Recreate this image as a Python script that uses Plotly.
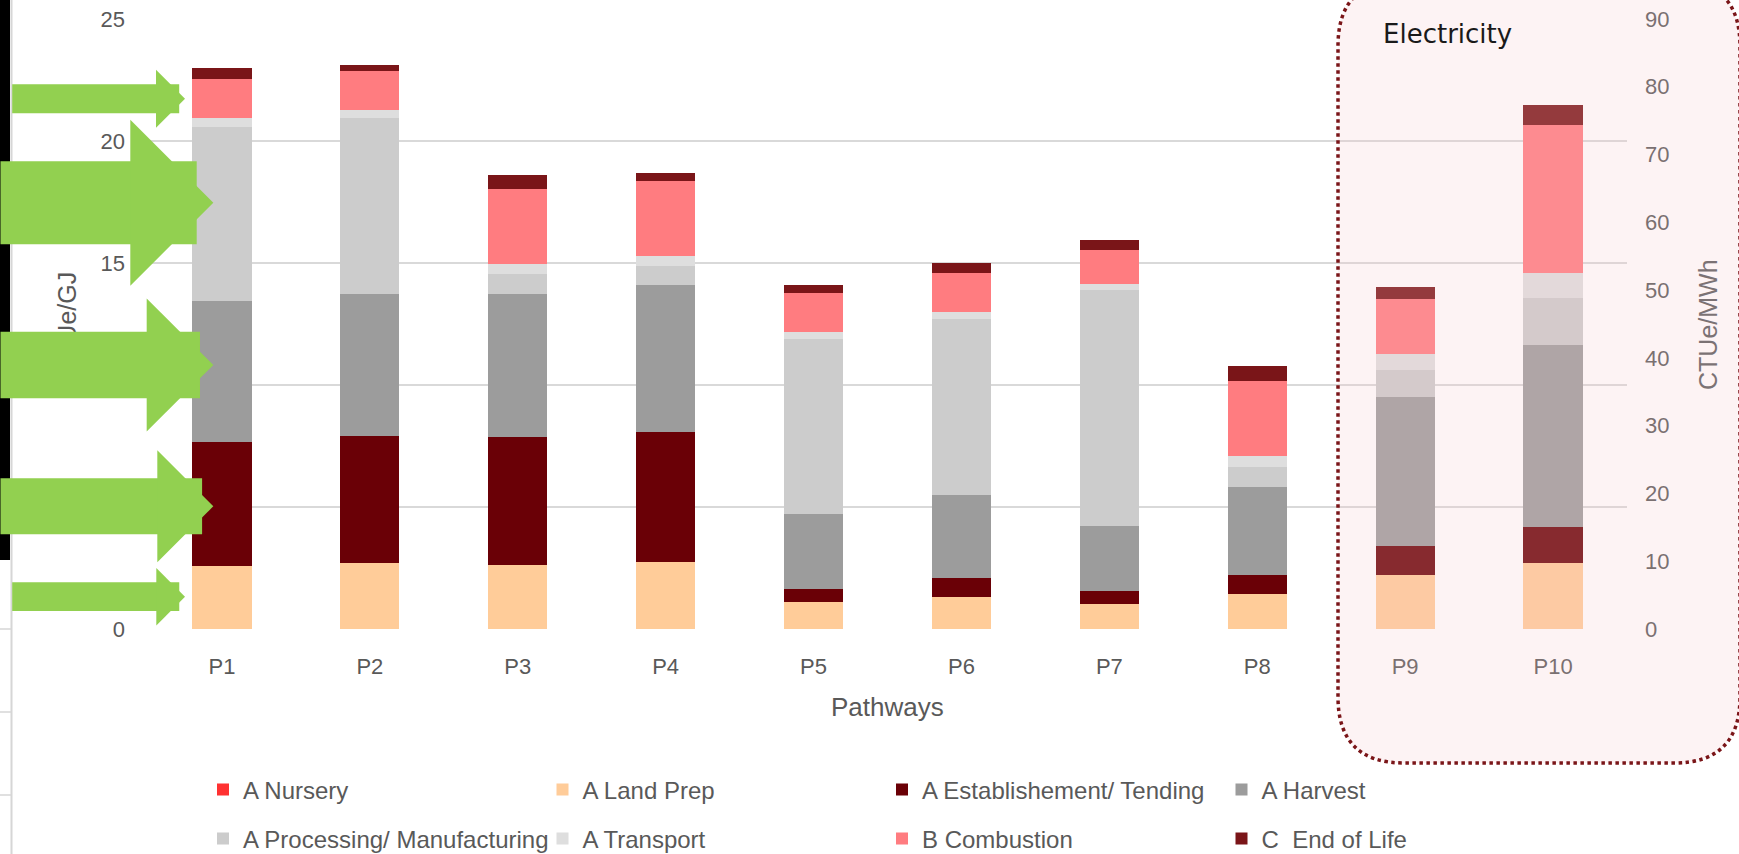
import plotly.graph_objects as go

# ---- data -------------------------------------------------------------
pathways_gj = ["P1", "P2", "P3", "P4", "P5", "P6", "P7", "P8"]      # CTUe/GJ (left axis)
pathways_mwh = ["P9", "P10"]                                           # CTUe/MWh (right axis)
all_pathways = pathways_gj + pathways_mwh

stages = [
    "A Nursery",
    "A Land Prep",
    "A Establishement/ Tending",
    "A Harvest",
    "A Processing/ Manufacturing",
    "A Transport",
    "B Combustion",
    "C  End of Life",
]

nursery_gj = [0, 0, 0, 0, 0, 0, 0, 0]
land_prep_gj = [2.59, 2.69, 2.63, 2.75, 1.09, 1.32, 1.04, 1.45]
establishment_gj = [5.09, 5.23, 5.22, 5.34, 0.54, 0.79, 0.53, 0.77]
harvest_gj = [5.76, 5.82, 5.89, 6.00, 3.07, 3.38, 2.65, 3.62]
processing_gj = [7.15, 7.22, 0.82, 0.79, 7.18, 7.21, 9.68, 0.81]
transport_gj = [0.37, 0.30, 0.41, 0.39, 0.29, 0.30, 0.23, 0.43]
combustion_gj = [1.60, 1.59, 3.08, 3.08, 1.60, 1.61, 1.42, 3.08]
end_of_life_gj = [0.43, 0.25, 0.55, 0.35, 0.32, 0.41, 0.38, 0.60]

nursery_mwh = [0, 0]
land_prep_mwh = [7.94, 9.70]
establishment_mwh = [4.33, 5.36]
harvest_mwh = [21.97, 26.82]
processing_mwh = [4.04, 6.91]
transport_mwh = [2.28, 3.75]
combustion_mwh = [8.15, 21.82]
end_of_life_mwh = [1.77, 3.01]

left_ticks = [0, 5, 10, 15, 20, 25]
right_ticks = [0, 10, 20, 30, 40, 50, 60, 70, 80, 90]

# ---- styling ----------------------------------------------------------
colors = ["#ff3131", "#ffcc99", "#6a0006", "#9c9c9c", "#cccccc", "#dedede", "#ff7c80", "#7a1518"]
values_gj = [nursery_gj, land_prep_gj, establishment_gj, harvest_gj,
             processing_gj, transport_gj, combustion_gj, end_of_life_gj]
values_mwh = [nursery_mwh, land_prep_mwh, establishment_mwh, harvest_mwh,
              processing_mwh, transport_mwh, combustion_mwh, end_of_life_mwh]

FONT = "Liberation Sans, Arial, sans-serif"
WIDE_FONT = "DejaVu Sans, Verdana, sans-serif"
GREY_TEXT = "#595959"
GREEN = "#92d050"

W, H = 1739, 854
PL, PR, PT, PB = 148, 1627, 19, 629   # plot area in pixels


def px_x(px):
    return (px - PL) / (PR - PL)


def px_y(py):
    return (PB - py) / (PB - PT)


fig = go.Figure()
for i, stage in enumerate(stages):
    leg = "legend" if i < 4 else "legend2"
    fig.add_trace(go.Bar(
        x=pathways_gj, y=values_gj[i], name=stage, legend=leg, legendgroup=stage,
        marker=dict(color=colors[i], line=dict(width=0)), yaxis="y",
    ))
    fig.add_trace(go.Bar(
        x=pathways_mwh, y=values_mwh[i], name=stage, legend=leg, legendgroup=stage,
        showlegend=False, marker=dict(color=colors[i], line=dict(width=0)), yaxis="y2",
    ))


def rounded_path(x0, y0, x1, y1, r):
    """Rounded rectangle in pixels -> paper-coordinate SVG path."""
    def P(x, y):
        return f"{px_x(x):.5f},{px_y(y):.5f}"
    return (f"M{P(x0 + r, y0)} L{P(x1 - r, y0)} Q{P(x1, y0)} {P(x1, y0 + r)} "
            f"L{P(x1, y1 - r)} Q{P(x1, y1)} {P(x1 - r, y1)} L{P(x0 + r, y1)} "
            f"Q{P(x0, y1)} {P(x0, y1 - r)} L{P(x0, y0 + r)} Q{P(x0, y0)} {P(x0 + r, y0)} Z")


shapes = [
    # highlighted electricity region
    dict(type="path", xref="paper", yref="paper", layer="above",
         path=rounded_path(1338, -20, 1740, 763, 66),
         fillcolor="rgba(245,198,203,0.21)",
         line=dict(color="#7a1518", width=3.5, dash="dot")),
    # spreadsheet edge on the far left
    dict(type="rect", xref="paper", yref="paper", layer="above",
         x0=px_x(0), x1=px_x(10), y0=px_y(0), y1=px_y(560),
         fillcolor="black", line=dict(width=0)),
    dict(type="line", xref="paper", yref="paper", layer="above",
         x0=px_x(11.5), x1=px_x(11.5), y0=px_y(0), y1=px_y(854),
         line=dict(color="#d6d6d6", width=2)),
]
for gy in [629, 712, 795]:
    shapes.append(dict(type="line", xref="paper", yref="paper", layer="above",
                       x0=px_x(0), x1=px_x(11), y0=px_y(gy), y1=px_y(gy),
                       line=dict(color="#d6d6d6", width=1.5)))


def label(text, x, y, size, color, angle=0, xanchor="center", family=FONT):
    return dict(text=text, x=px_x(x), y=px_y(y), xref="paper", yref="paper",
                xanchor=xanchor, yanchor="middle", textangle=angle, showarrow=False,
                font=dict(family=family, size=size, color=color))


annotations = [
    label("CTUe/GJ", 67, 324, 25, GREY_TEXT, angle=-90),
    label("CTUe/MWh", 1708, 325, 25, "#7b7274", angle=-90),
    label("Pathways", 887.5, 707, 26, GREY_TEXT),
    label("Electricity", 1381, 34, 26, "#1a1a1a", xanchor="left", family=WIDE_FONT),
]

# block arrows: (tip x, tip y, tail x, shaft thickness) in pixels
block_arrows = [
    (185, 98.8, 11.7, 29),
    (213.3, 202.8, -5, 83),
    (213.3, 365.0, -5, 66.6),
    (213.3, 506.3, -5, 56),
    (185, 596.7, 11.7, 28.7),
]
for tx, ty, tail, thick in block_arrows:
    annotations.append(dict(
        text="", x=px_x(tx), y=px_y(ty), xref="paper", yref="paper",
        showarrow=True, axref="pixel", ayref="pixel", ax=tail - tx, ay=0,
        arrowhead=1, arrowsize=1 / 3, arrowwidth=thick, arrowcolor=GREEN,
        standoff=0, borderpad=0,
    ))

legend_common = dict(
    orientation="h", xanchor="left", yanchor="middle",
    font=dict(family=FONT, size=24, color=GREY_TEXT),
    entrywidth=294.5, entrywidthmode="pixels", traceorder="normal",
    bgcolor="rgba(0,0,0,0)", itemclick=False, itemdoubleclick=False,
)

fig.update_layout(
    width=W, height=H,
    margin=dict(l=PL, r=W - PR, t=PT, b=H - PB, pad=0, autoexpand=False),
    paper_bgcolor="white", plot_bgcolor="white",
    font=dict(family=FONT, color=GREY_TEXT),
    barmode="stack", bargap=0.6,
    xaxis=dict(categoryorder="array", categoryarray=all_pathways, range=[-0.5, 9.5],
               showgrid=False, zeroline=False, showline=False, ticks="",
               ticklabelstandoff=22, tickfont=dict(size=22, color=GREY_TEXT)),
    yaxis=dict(range=[0, 25], tickvals=left_ticks, showgrid=True, gridcolor="#d9d9d9",
               gridwidth=1.5, zeroline=False, showline=False, ticks="",
               ticklabelstandoff=22, tickfont=dict(size=22, color=GREY_TEXT)),
    yaxis2=dict(range=[0, 90], tickvals=right_ticks, overlaying="y", side="right",
                showgrid=False, zeroline=False, showline=False, ticks="",
                ticklabelstandoff=17, tickfont=dict(size=22, color=GREY_TEXT)),
    legend=dict(x=px_x(203), y=px_y(790), **legend_common),
    legend2=dict(x=px_x(203), y=px_y(839), **legend_common),
    shapes=shapes,
    annotations=annotations,
    showlegend=True,
)

fig.write_html("out.html")
